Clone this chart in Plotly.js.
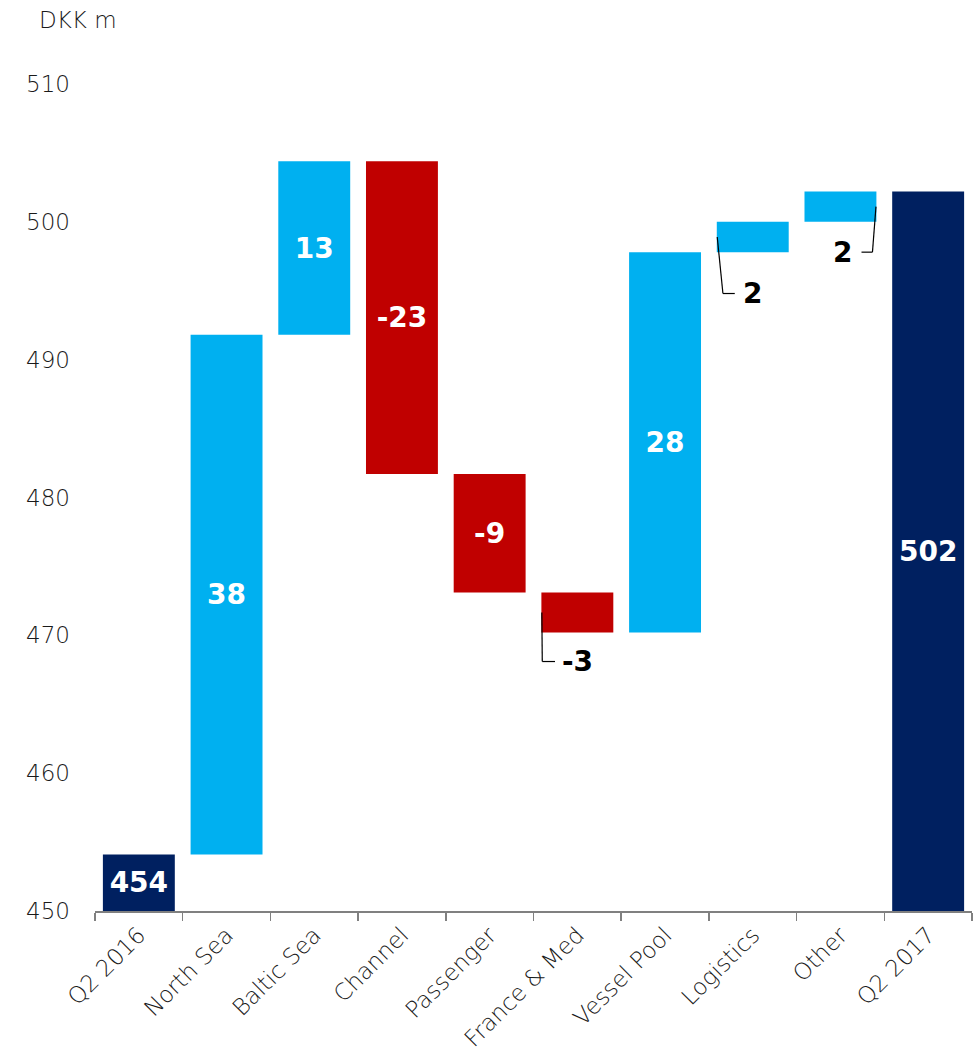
<!DOCTYPE html>
<html>
<head>
<meta charset="utf-8">
<script src="https://cdn.plot.ly/plotly-3.0.1.min.js"></script>
<style>html,body{margin:0;padding:0;background:#fff;}#chart{width:980px;height:1050px;}</style>
</head>
<body>
<div id="chart"></div>
<script>
// ---- data ----
const categories = ["Q2 2016","North Sea","Baltic Sea","Channel","Passenger","France & Med","Vessel Pool","Logistics","Other","Q2 2017"];
const startValue = 454.1;
const changes = [37.7, 12.6, -22.7, -8.6, -2.9, 27.6, 2.2, 2.2];
const yTicks = [450, 460, 470, 480, 490, 500, 510];
const unitLabel = "DKK m";

// ---- build waterfall from data ----
const axisMin = 450, axisMax = 510;
const bases = [], heights = [], colors = [], labels = [];
let running = startValue;
bases.push(axisMin); heights.push(startValue - axisMin); colors.push("#002060"); labels.push(String(Math.round(startValue)));
changes.forEach(c => {
  bases.push(running); heights.push(c);
  colors.push(c >= 0 ? "#00B0F0" : "#C00000");
  labels.push(String(Math.round(c)));
  running += c;
});
const endValue = running;
bases.push(axisMin); heights.push(endValue - axisMin); colors.push("#002060"); labels.push(String(Math.round(endValue)));

// small bars get outside labels with leader lines
const outside = {5: {side: -1, drop: 2.1}, 7: {side: -1, drop: 3.0}, 8: {side: 1, drop: 2.2}};
const insideText = labels.map((t, i) => outside[i] ? "" : t);

const fontFam = "DejaVu Sans, Open Sans, sans-serif";
const shapes = [], annotations = [];
const halfW = 0.41;
Object.keys(outside).forEach(k => {
  const i = +k, o = outside[k];
  const lo = Math.min(bases[i], bases[i] + heights[i]);
  const mid = bases[i] + heights[i] / 2;
  const ly = lo - o.drop;
  const xTop = i + o.side * (halfW - 0.005);
  const xBot = i + o.side * (o.side < 0 ? (i === 7 ? 0.34 : 0.40) : 0.365);
  const xEnd = i + o.side * (o.side < 0 ? (i === 7 ? 0.205 : 0.255) : 0.24);
  shapes.push({type: "line", xref: "x", yref: "y", x0: xTop, y0: mid, x1: xBot, y1: ly, line: {color: "#000", width: 1.2}});
  shapes.push({type: "line", xref: "x", yref: "y", x0: xBot, y0: ly, x1: xEnd, y1: ly, line: {color: "#000", width: 1.2}});
  annotations.push({xref: "x", yref: "y", x: i + (o.side > 0 ? 0.02 : 0), y: ly, text: "<b>" + labels[i] + "</b>", showarrow: false,
    xanchor: "center", yanchor: "middle", font: {family: fontFam, size: 28, color: "#000"}});
});
annotations.push({xref: "paper", yref: "paper", x: -0.066, y: 1.0774, xanchor: "left", yanchor: "middle",
  text: unitLabel, showarrow: false, font: {family: fontFam, size: 23, color: "#1a1a1a", weight: 300}});

const trace = {
  type: "bar",
  x: categories,
  y: heights,
  base: bases,
  marker: {color: colors, line: {width: 0}},
  width: 0.82,
  text: insideText,
  texttemplate: "<b>%{text}</b>",
  textposition: "inside",
  insidetextanchor: "middle",
  textangle: 0,
  insidetextfont: {family: fontFam, size: 28, color: "#ffffff"},
  hoverinfo: "skip",
  cliponaxis: true
};

const layout = {
  width: 980, height: 1050,
  margin: {l: 95, r: 8, t: 84, b: 139},
  paper_bgcolor: "#fff", plot_bgcolor: "#fff",
  showlegend: false,
  xaxis: {
    type: "category",
    showline: true, linecolor: "#808080", linewidth: 1.5,
    ticks: "outside", tickson: "boundaries", ticklen: 8, tickcolor: "#808080", tickwidth: 1.5,
    tickangle: -45, showgrid: false, zeroline: false,
    tickfont: {family: fontFam, size: 23, color: "#1a1a1a", weight: 300},
    range: [-0.5, categories.length - 0.5]
  },
  yaxis: {
    range: [axisMin, axisMax], tickvals: yTicks, ticktext: yTicks.map(String),
    showline: false, showgrid: false, zeroline: false, ticks: "",
    ticklabelstandoff: 24,
    tickfont: {family: fontFam, size: 23, color: "#1a1a1a", weight: 300}
  },
  shapes: shapes,
  annotations: annotations
};

Plotly.newPlot("chart", [trace], layout, {displayModeBar: false, staticPlot: true});
</script>
</body>
</html>
